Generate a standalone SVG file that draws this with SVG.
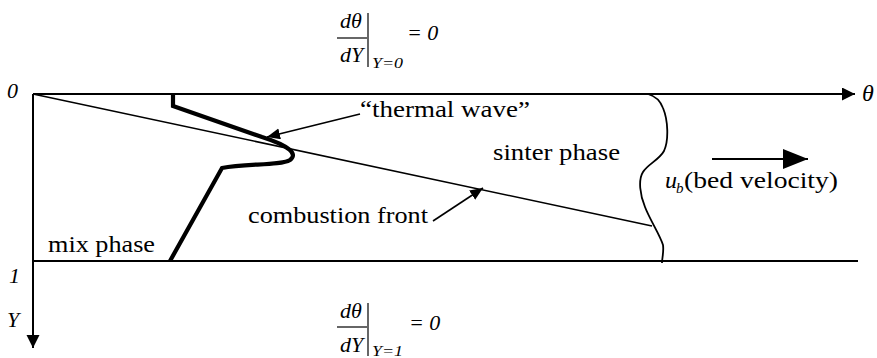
<svg xmlns="http://www.w3.org/2000/svg" width="877" height="358" viewBox="0 0 877 358">
<style>
  .t { font-family: 'Liberation Serif', 'Times New Roman', serif; font-size: 24px; fill: #000; }
  .i { font-family: 'Liberation Serif', 'Times New Roman', serif; font-style: italic; fill: #000; }
  .ln { stroke: #000; fill: none; }
</style>
<defs>
  <marker id="axisHead" markerUnits="userSpaceOnUse" markerWidth="14" markerHeight="14" refX="13" refY="6.5" orient="auto">
    <path d="M0,0 L13,6.5 L0,13 z" fill="#000"/>
  </marker>
  <marker id="smallHead" markerUnits="userSpaceOnUse" markerWidth="14" markerHeight="12" refX="13" refY="5.5" orient="auto">
    <path d="M0,0 L13,5.5 L0,11 z" fill="#000"/>
  </marker>
  <marker id="bigHead" markerUnits="userSpaceOnUse" markerWidth="26" markerHeight="20" refX="25" refY="10" orient="auto">
    <path d="M0,0 L25,10 L0,20 z" fill="#000"/>
  </marker>
</defs>

<g id="axes">
  <line class="ln" x1="33" y1="94" x2="855" y2="94" stroke-width="2" marker-end="url(#axisHead)"/>
  <line class="ln" x1="33" y1="94" x2="33" y2="348" stroke-width="2" marker-end="url(#axisHead)"/>
  <line class="ln" x1="33" y1="261" x2="858" y2="261" stroke-width="2"/>
  <text class="i" x="7" y="98" font-size="22">0</text>
  <text class="i" x="9" y="283" font-size="22">1</text>
  <text class="i" x="7" y="327" font-size="22">Y</text>
  <text class="i" x="862" y="101" font-size="24">θ</text>
</g>

<g id="combustion-front-line">
  <line class="ln" x1="33" y1="94" x2="652" y2="226" stroke-width="1.6"/>
</g>

<g id="sinter-boundary">
  <path class="ln" stroke-width="1.8" d="M648,94 C655,96 660,100 663,108 C668,120 669,140 664,151 C659,160 648,164 643,172 C638,180 640,195 645,207 C650,220 660,235 663,245 C664,252 662,258 662,263"/>
</g>

<g id="thermal-wave">
  <path class="ln" stroke-width="4.2" stroke-linejoin="miter" d="M173,93 V106 L262,137 C290,146 298,154 290,160 C280,166 245,163 222,168 L170,261"/>
</g>

<g id="connectors">
  <line class="ln" x1="360" y1="114" x2="267" y2="137" stroke-width="1.6" marker-end="url(#smallHead)"/>
  <line class="ln" x1="433" y1="221" x2="483" y2="188" stroke-width="1.6" marker-end="url(#smallHead)"/>
  <line class="ln" x1="712" y1="159" x2="808" y2="159" stroke-width="2" marker-end="url(#bigHead)"/>
</g>

<g id="label-thermal-wave">
  <text class="t" x="360" y="117" textLength="170" lengthAdjust="spacingAndGlyphs">“thermal wave”</text>
</g>
<g id="label-sinter-phase">
  <text class="t" x="493" y="160" textLength="127" lengthAdjust="spacingAndGlyphs">sinter phase</text>
</g>
<g id="label-combustion-front">
  <text class="t" x="248" y="223" textLength="180" lengthAdjust="spacingAndGlyphs">combustion front</text>
</g>
<g id="label-mix-phase">
  <text class="t" x="48" y="252" textLength="107" lengthAdjust="spacingAndGlyphs">mix phase</text>
</g>
<g id="label-bed-velocity">
  <text class="i" x="665" y="188" font-size="24">u</text>
  <text class="i" x="676" y="193" font-size="15">b</text>
  <text class="t" x="684" y="188" textLength="154" lengthAdjust="spacingAndGlyphs">(bed velocity)</text>
</g>

<g id="bc-top">
  <text class="i" x="340" y="28" font-size="22">dθ</text>
  <line class="ln" x1="337" y1="38" x2="367" y2="38" stroke-width="1.2"/>
  <text class="i" x="340" y="62" font-size="22">dY</text>
  <line class="ln" x1="368" y1="13" x2="368" y2="67" stroke-width="1.2"/>
  <text class="i" x="372" y="68" font-size="14" textLength="31" lengthAdjust="spacingAndGlyphs">Y=0</text>
  <text class="i" x="407" y="40" font-size="22">= 0</text>
</g>

<g id="bc-bottom">
  <text class="i" x="340" y="318" font-size="22">dθ</text>
  <line class="ln" x1="337" y1="327" x2="367" y2="327" stroke-width="1.2"/>
  <text class="i" x="340" y="352" font-size="22">dY</text>
  <line class="ln" x1="368" y1="303" x2="368" y2="356" stroke-width="1.2"/>
  <text class="i" x="372" y="356" font-size="14" textLength="31" lengthAdjust="spacingAndGlyphs">Y=1</text>
  <text class="i" x="409" y="330" font-size="22">= 0</text>
</g>
</svg>
